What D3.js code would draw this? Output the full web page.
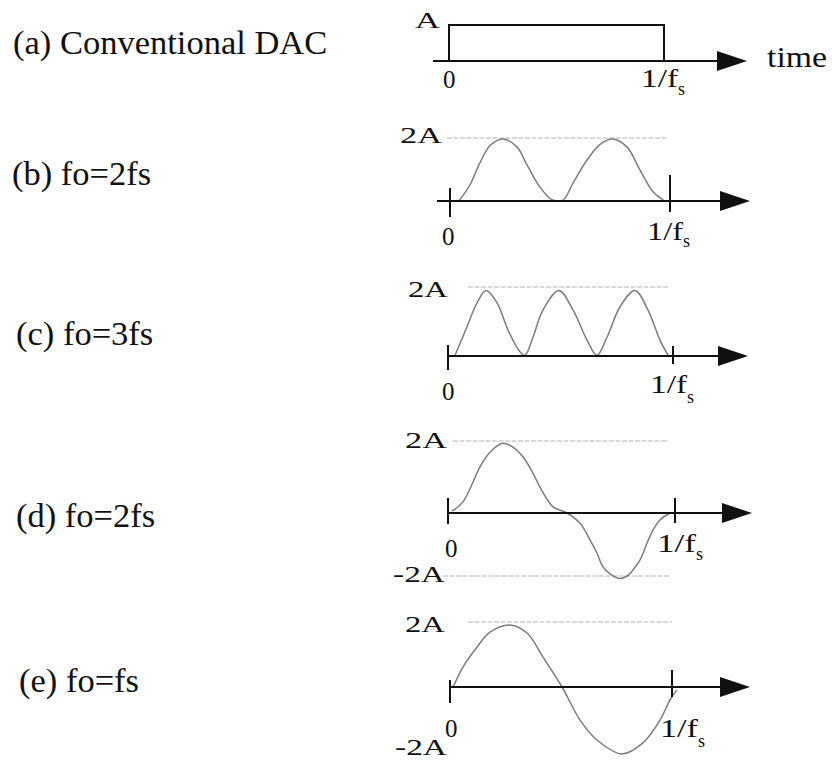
<!DOCTYPE html>
<html>
<head>
<meta charset="utf-8">
<script src="https://cdn.jsdelivr.net/npm/d3@7"></script>
<style>
  html, body { margin: 0; padding: 0; background: #fff; }
  svg { display: block; }
</style>
</head>
<body>
<svg id="fig" width="832" height="763"></svg>
<script>
// Row captions
const panelCaptions = ["(a) Conventional DAC", "(b) fo=2fs", "(c) fo=3fs", "(d) fo=2fs", "(e) fo=fs"];

// Axis annotations
const tickLabels = ["0", "1/f"];
const tickSubscript = "s";
const timeLabel = "time";
const ampLabelA = "A";
const ampLabelPos = "2A";
const ampLabelNeg = "-2A";

// (a) zero-order-hold pulse: time in units of 1/fs, amplitude in units of A
const pulseT = [0, 0, 1, 1];
const pulseV = [0, 1, 1, 0];

// (b) output pulse, fo = 2fs
const waveBT = [0.04, 0.09, 0.136, 0.182, 0.241, 0.305, 0.35, 0.409, 0.464, 0.514, 0.559, 0.623, 0.682, 0.741, 0.805, 0.864, 0.923, 0.97];
const waveBV = [0.0, 0.5, 1.21, 1.76, 1.97, 1.71, 1.15, 0.44, 0.04, 0.03, 0.57, 1.3, 1.8, 1.97, 1.71, 0.98, 0.29, 0.03];

// (c) output pulse, fo = 3fs
const waveCT = [0.03, 0.084, 0.129, 0.169, 0.218, 0.267, 0.32, 0.342, 0.378, 0.422, 0.493, 0.556, 0.618, 0.662, 0.707, 0.764, 0.831, 0.889, 0.942, 0.978];
const waveCV = [0.0, 0.84, 1.54, 1.9, 1.54, 0.75, 0.12, 0.02, 0.55, 1.33, 1.9, 1.33, 0.46, 0.02, 0.55, 1.42, 1.9, 1.33, 0.46, 0.02];

// (d) output pulse, fo = 2fs, bipolar
const waveDT = [0.018, 0.066, 0.141, 0.185, 0.242, 0.286, 0.33, 0.374, 0.405, 0.463, 0.524, 0.581, 0.626, 0.656, 0.683, 0.714, 0.758, 0.789, 0.815, 0.846, 0.877, 0.903, 0.934, 0.978];
const waveDV = [0.05, 0.31, 1.28, 1.69, 1.94, 1.83, 1.56, 1.11, 0.72, 0.17, 0.0, -0.32, -0.86, -1.27, -1.71, -1.93, -2.08, -2.0, -1.81, -1.49, -0.95, -0.54, -0.22, 0.0];

// (e) output pulse, fo = fs
const waveET = [0.014, 0.059, 0.122, 0.18, 0.27, 0.347, 0.419, 0.505, 0.586, 0.662, 0.775, 0.869, 0.946, 0.991, 1.022];
const waveEV = [0.0, 0.62, 1.23, 1.69, 1.91, 1.66, 0.92, 0.0, -1.02, -1.63, -2.06, -1.72, -1.02, -0.4, -0.09];

const FONT = "'Liberation Serif', 'Times New Roman', Times, 'DejaVu Serif', serif";
const svg = d3.select("#fig").attr("font-family", FONT);

// Panel geometry (pixels)
const panels = [
  { axisY: 61,  x0: 449, x1: 664, start: 433, tip: 747, yPos: 25,  posVal: 1,
    ticks: null, levels: [],
    amp: [{ text: ampLabelA, x: 415, y: 28, w: 25, size: 23 }],
    zero: { x: 443, y: 88 }, one: { x: 641, y: 87, w: 37, sx: 678, sy: 95 },
    caption: { x: 13, y: 54 } },
  { axisY: 201, x0: 450, x1: 670, start: 437, tip: 750, yPos: 138, posVal: 2,
    ticks: [[-13, 16], [-26, 11]],
    levels: [{ v: 2, from: -0.014, to: 0.99 }],
    amp: [{ text: ampLabelPos, x: 400, y: 143, w: 42, size: 24 }],
    zero: { x: 442, y: 245 }, one: { x: 647, y: 240, w: 36, sx: 683, sy: 247 },
    caption: { x: 12, y: 185 } },
  { axisY: 356, x0: 448, x1: 673, start: 448, tip: 748, yPos: 287, posVal: 2,
    ticks: [[-11, 14], [-10, 8]],
    levels: [{ v: 2, from: 0.089, to: 0.978 }],
    amp: [{ text: ampLabelPos, x: 408, y: 297, w: 40, size: 24 }],
    zero: { x: 442, y: 400 }, one: { x: 650, y: 393, w: 37, sx: 687, sy: 403 },
    caption: { x: 16, y: 345 } },
  { axisY: 513, x0: 448, x1: 675, start: 448, tip: 752, yPos: 441, yNeg: 576, posVal: 2,
    ticks: [[-15, 11], [-15, 10]],
    levels: [{ v: 2, from: 0.022, to: 0.969 }, { v: -2, from: -0.022, to: 0.978 }],
    amp: [{ text: ampLabelPos, x: 405, y: 448, w: 42, size: 24 },
          { text: ampLabelNeg, x: 393, y: 582, w: 52, size: 24 }],
    zero: { x: 445, y: 557 }, one: { x: 657, y: 552, w: 39, sx: 696, sy: 560 },
    caption: { x: 16, y: 527 } },
  { axisY: 687, x0: 450, x1: 672, start: 450, tip: 750, yPos: 622, yNeg: 752, posVal: 2,
    ticks: [[-7, 16], [-17, 10]],
    levels: [{ v: 2, from: 0.081, to: 1.0 }],
    amp: [{ text: ampLabelPos, x: 405, y: 632, w: 40, size: 24 },
          { text: ampLabelNeg, x: 395, y: 755, w: 52, size: 24 }],
    zero: { x: 445, y: 737 }, one: { x: 660, y: 737, w: 38, sx: 698, sy: 747 },
    caption: { x: 19, y: 692 } }
];

const waves = [
  { t: pulseT, v: pulseV },
  { t: waveBT, v: waveBV },
  { t: waveCT, v: waveCV },
  { t: waveDT, v: waveDV },
  { t: waveET, v: waveEV }
];

function addText(g, str, px, py, size, width) {
  const t = g.append("text")
    .attr("x", px).attr("y", py)
    .attr("font-family", FONT)
    .attr("font-size", size)
    .attr("fill", "#111")
    .text(str);
  if (width) t.attr("textLength", width).attr("lengthAdjust", "spacingAndGlyphs");
  return t;
}

panels.forEach((p, i) => {
  const g = svg.append("g");
  const x = d3.scaleLinear().domain([0, 1]).range([p.x0, p.x1]);
  const y = p.yNeg !== undefined
    ? d3.scaleLinear().domain([-2, 0, 2]).range([p.yNeg, p.axisY, p.yPos])
    : d3.scaleLinear().domain([0, p.posVal]).range([p.axisY, p.yPos]);

  // caption
  addText(g, panelCaptions[i], p.caption.x, p.caption.y, 34.5);

  // reference levels (faint)
  p.levels.forEach(l => {
    g.append("line")
      .attr("x1", x(l.from)).attr("x2", x(l.to))
      .attr("y1", y(l.v)).attr("y2", y(l.v))
      .attr("stroke", "#b4b4b4").attr("stroke-width", 1.2)
      .attr("stroke-dasharray", "5,1.5");
  });

  // waveform
  const pts = waves[i].t.map((t, k) => [t, waves[i].v[k]]);
  if (i === 0) {
    g.append("path")
      .attr("d", d3.line().x(d => x(d[0])).y(d => y(d[1]))(pts))
      .attr("fill", "none").attr("stroke", "#111").attr("stroke-width", 2);
  } else {
    g.append("path")
      .attr("d", d3.line().x(d => x(d[0])).y(d => y(d[1])).curve(d3.curveCatmullRom.alpha(0.5))(pts))
      .attr("fill", "none").attr("stroke", "#7c7c7c").attr("stroke-width", 1.5);
  }

  // time axis with arrow
  g.append("line")
    .attr("x1", p.start).attr("x2", p.tip - 26)
    .attr("y1", p.axisY).attr("y2", p.axisY)
    .attr("stroke", "#111").attr("stroke-width", 2.2);
  g.append("path")
    .attr("d", `M${p.tip - 30},${p.axisY - 10}L${p.tip},${p.axisY}L${p.tip - 30},${p.axisY + 10}Z`)
    .attr("fill", "#111");

  // ticks at 0 and 1/fs
  if (p.ticks) {
    [0, 1].forEach((t, k) => {
      g.append("line")
        .attr("x1", x(t)).attr("x2", x(t))
        .attr("y1", p.axisY + p.ticks[k][0]).attr("y2", p.axisY + p.ticks[k][1])
        .attr("stroke", "#111").attr("stroke-width", 2);
    });
  }

  // amplitude labels
  p.amp.forEach(a => addText(g, a.text, a.x, a.y, a.size, a.w));

  // tick labels
  addText(g, tickLabels[0], p.zero.x, p.zero.y, 25);
  addText(g, tickLabels[1], p.one.x, p.one.y, 25, p.one.w);
  addText(g, tickSubscript, p.one.sx, p.one.sy, 18);

  if (i === 0) addText(g, timeLabel, 767, 67, 30, 60);
});
</script>
</body>
</html>
